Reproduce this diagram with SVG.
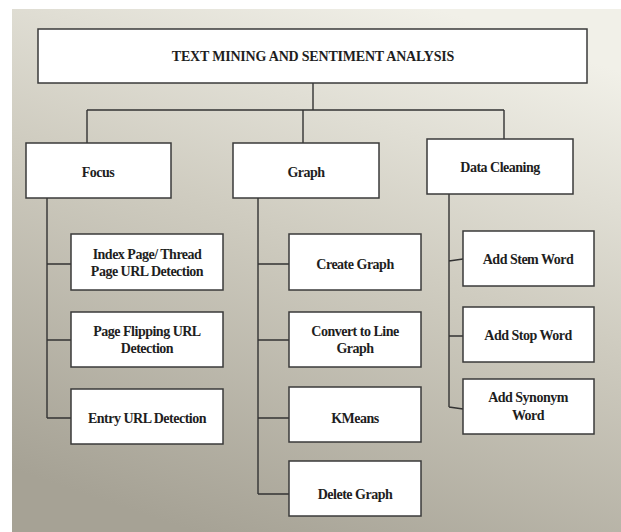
<svg xmlns="http://www.w3.org/2000/svg" width="621" height="532" viewBox="0 0 621 532">
<defs>
<linearGradient id="bg" x1="0.7" y1="0" x2="0.3" y2="1">
<stop offset="0" stop-color="#f1f0e8"/>
<stop offset="0.45" stop-color="#cfccc0"/>
<stop offset="1" stop-color="#a6a295"/>
</linearGradient>
<style>
.box{fill:#fff;stroke:#3a3a3a;stroke-width:1.5}
.ln{fill:none;stroke:#333;stroke-width:1.4}
text{font-family:"Liberation Serif","Times New Roman",serif;font-weight:bold;font-size:14px;letter-spacing:-0.5px;fill:#1e1e1e;text-anchor:middle}
.title{letter-spacing:-0.2px}
</style>
</defs>
<rect x="0" y="0" width="621" height="532" fill="#fff"/>
<rect x="12" y="9" width="609" height="523" fill="url(#bg)"/>
<g id="connectors">
<path class="ln" d="M313 83V110M87 110H504M87 110V143M303 110V143M504 110V139"/>
<path class="ln" d="M47 198V418M47 264H71M47 340H71M47 418H71"/>
<path class="ln" d="M258 198V494M258 264H289M258 340H289M258 418H289M258 494H289"/>
<path class="ln" d="M449 194V407M449 261L463 259M449 336H463M449 407L463 409"/>
</g>
<g id="root"><rect class="box" x="38" y="29" width="549" height="54"/><text class="title" x="313" y="61">TEXT MINING AND SENTIMENT ANALYSIS</text></g>
<g id="focus"><rect class="box" x="26" y="143" width="145" height="55"/><text x="98" y="177">Focus</text></g>
<g id="graph"><rect class="box" x="233" y="143" width="146" height="55"/><text x="306" y="177">Graph</text></g>
<g id="datacleaning"><rect class="box" x="427" y="139" width="146" height="55"/><text x="500" y="172">Data Cleaning</text></g>
<g id="index"><rect class="box" x="71" y="234" width="152" height="56"/><text x="147" y="259">Index Page/ Thread</text><text x="147" y="276">Page URL Detection</text></g>
<g id="flip"><rect class="box" x="71" y="312" width="152" height="55"/><text x="147" y="336">Page Flipping URL</text><text x="147" y="353">Detection</text></g>
<g id="entry"><rect class="box" x="71" y="389" width="152" height="55"/><text x="147" y="423">Entry URL Detection</text></g>
<g id="create"><rect class="box" x="289" y="234" width="132" height="56"/><text x="355" y="269">Create Graph</text></g>
<g id="convert"><rect class="box" x="289" y="312" width="132" height="55"/><text x="355" y="336">Convert to Line</text><text x="355" y="353">Graph</text></g>
<g id="kmeans"><rect class="box" x="289" y="387" width="132" height="55"/><text x="355" y="423">KMeans</text></g>
<g id="delete"><rect class="box" x="289" y="461" width="132" height="55"/><text x="355" y="499">Delete Graph</text></g>
<g id="stem"><rect class="box" x="463" y="231" width="131" height="55"/><text x="528" y="264">Add Stem Word</text></g>
<g id="stop"><rect class="box" x="463" y="307" width="131" height="55"/><text x="528" y="340">Add Stop Word</text></g>
<g id="synonym"><rect class="box" x="463" y="379" width="131" height="55"/><text x="528" y="402">Add Synonym</text><text x="528" y="420">Word</text></g>
</svg>
